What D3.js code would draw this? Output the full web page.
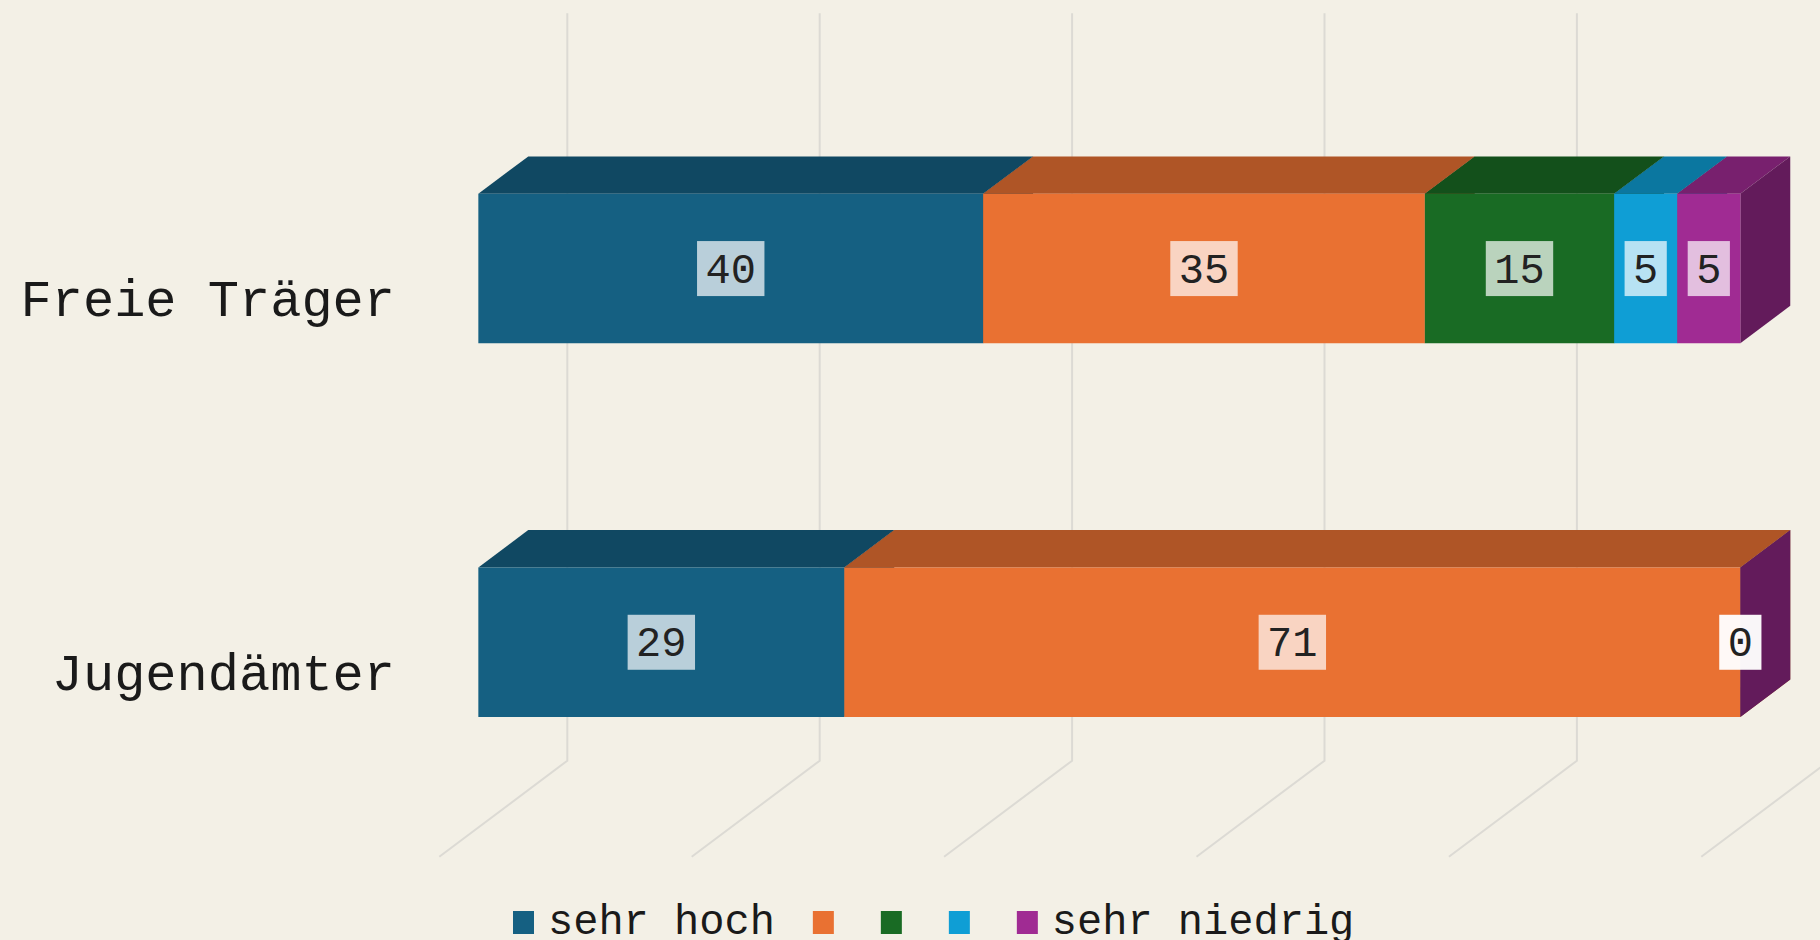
<!DOCTYPE html>
<html>
<head>
<meta charset="utf-8">
<script src="https://cdn.jsdelivr.net/npm/d3@7"></script>
<style>
  html, body { margin: 0; padding: 0; background: #f3f0e6; }
  svg { display: block; }
</style>
</head>
<body>
<svg class="bar3d-chart"></svg>
<script>
// data
const categories = ["Freie Träger", "Jugendämter"];
const seriesNames = ["sehr hoch", "", "", "", "sehr niedrig"];
const seriesColors = ["#156082", "#e97132", "#196b24", "#0f9ed5", "#a02b93"];
const sehrHoch = [40, 29];
const stufe2 = [35, 71];
const stufe3 = [15, null];
const stufe4 = [5, null];
const sehrNiedrig = [5, 0];
const gridTicks = [0, 20, 40, 60, 80, 100];

const series = [sehrHoch, stufe2, stufe3, stufe4, sehrNiedrig];

const width = 1820, height = 940;
const plotLeft = 439.3, plotRight = 1701.3,
   plotTop = 109.3, plotBottom = 856.7;
// 3d depth of the whole box, bars sit in the middle of it
const DX = 128, DY = 96,
   z0 = 0.305, z1 = 0.695;
const fontFam = "'Courier New', 'Liberation Mono', monospace";

const svg = d3.select("svg.bar3d-chart")
   .attr("width", width)
   .attr("height", height);

const xScale = d3.scaleLinear()
   .domain([0, 100])
   .range([plotLeft, plotRight]);

const yScale = d3.scaleBand()
   .domain(categories)
   .range([plotTop + 1.7, plotBottom + 1.7])
   .paddingInner(0.6)
   .paddingOuter(0.3);

const P = (x, y, z) => [x + z * DX, y - z * DY];
const poly = pts => "M" + pts.map(p => p.join(",")).join("L") + "Z";

// back wall + floor grid lines
svg.append("g").attr("class", "grid")
   .selectAll("path")
   .data(gridTicks)
   .join("path")
   .attr("d", t => {
      const a = P(xScale(t), plotTop, 1),
         b = P(xScale(t), plotBottom, 1),
         c = P(xScale(t), plotBottom, 0);
      return "M" + [a, b, c].map(p => p.join(",")).join("L");
   })
   .attr("fill", "none")
   .attr("stroke", "#dcdad4")
   .attr("stroke-width", 2);

// stack the segments
const segments = [];
categories.forEach((cat, ci) => {
   let cum = 0;
   series.forEach((vals, si) => {
      const v = vals[ci];
      if (v === null) return;
      segments.push({ cat, si, v, start: cum, end: cum + v });
      cum += v;
   });
});

const bars = svg.append("g").attr("class", "bars");

segments.forEach(d => {
   const xa = xScale(d.start), xb = xScale(d.end);
   const yt = yScale(d.cat), yb = yScale(d.cat) + yScale.bandwidth();
   const col = d3.color(seriesColors[d.si]);
   const g = bars.append("g");

   g.append("path")
      .attr("d", poly([P(xa, yt, z0), P(xb, yt, z0), P(xb, yt, z1), P(xa, yt, z1)]))
      .attr("fill", d3.rgb(col.r * 0.75, col.g * 0.75, col.b * 0.75));

   g.append("path")
      .attr("d", poly([P(xb, yt, z0), P(xb, yt, z1), P(xb, yb, z1), P(xb, yb, z0)]))
      .attr("fill", d3.rgb(col.r * 0.62, col.g * 0.62, col.b * 0.62));

   g.append("path")
      .attr("d", poly([P(xa, yt, z0), P(xb, yt, z0), P(xb, yb, z0), P(xa, yb, z0)]))
      .attr("fill", col.formatHex());
});

// value labels
const labels = svg.append("g").attr("class", "labels");
segments.forEach(d => {
   const yt = yScale(d.cat), yb = yScale(d.cat) + yScale.bandwidth();
   const c = P((xScale(d.start) + xScale(d.end)) / 2, (yt + yb) / 2, z0);
   const txt = String(d.v);
   const bw = txt.length * 25.2 + 17, bh = 55;
   labels.append("rect")
      .attr("x", c[0] - bw / 2)
      .attr("y", c[1] - bh / 2)
      .attr("width", bw)
      .attr("height", bh)
      .attr("fill", "#fff")
      .attr("fill-opacity", d.v === 0 ? 0.96 : 0.7);
   labels.append("text")
      .attr("x", c[0])
      .attr("y", c[1] + 14)
      .attr("text-anchor", "middle")
      .attr("font-family", "'Liberation Mono', monospace")
      .attr("font-size", 42)
      .attr("fill", "#222")
      .text(txt);
});

// category labels
svg.append("g").attr("class", "cats")
   .selectAll("text")
   .data(categories)
   .join("text")
   .attr("x", 395)
   .attr("y", d => yScale(d) + yScale.bandwidth() / 2 + 18)
   .attr("text-anchor", "end")
   .attr("font-family", fontFam)
   .attr("font-size", 52)
   .attr("fill", "#1a1a1a")
   .text(d => d);

// legend
const legend = svg.append("g").attr("class", "legend");
let lx = 513;
seriesNames.forEach((name, i) => {
   legend.append("rect")
      .attr("x", lx)
      .attr("y", 911)
      .attr("width", 21)
      .attr("height", 23)
      .attr("fill", seriesColors[i]);
   lx += 21 + 14;
   const t = legend.append("text")
      .attr("x", lx)
      .attr("y", 934)
      .attr("font-family", fontFam)
      .attr("font-size", 42)
      .attr("fill", "#1a1a1a")
      .text(name);
   lx += name ? t.node().getComputedTextLength() + 38 : 33;
});
</script>
</body>
</html>
